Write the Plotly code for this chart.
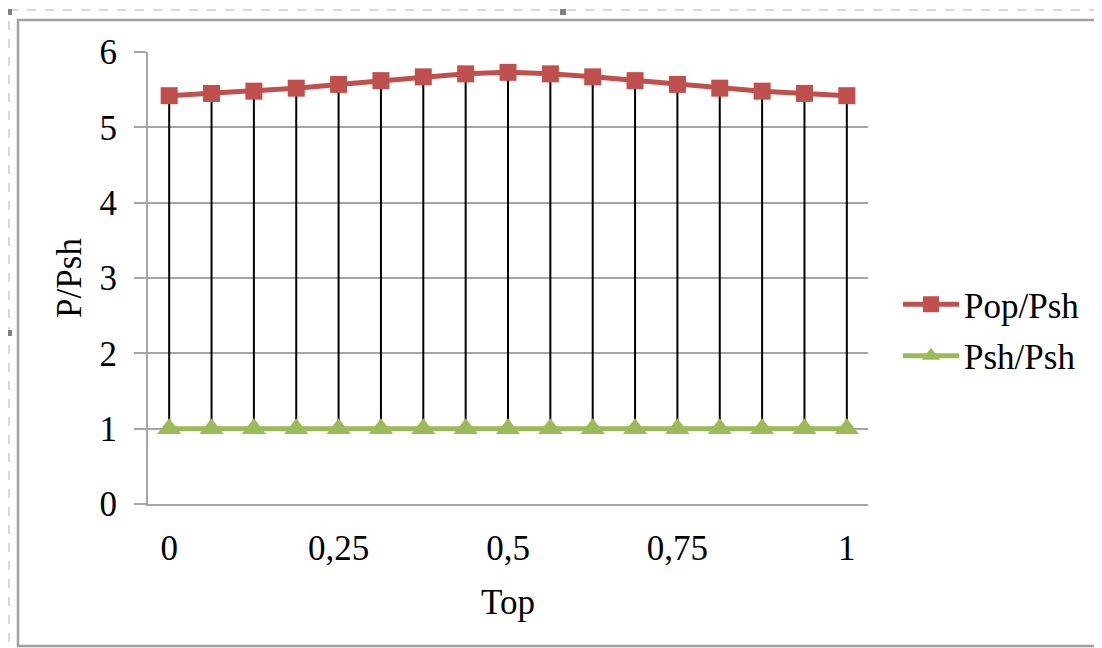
import plotly.graph_objects as go

# Data
x_vals = [i / 16 for i in range(17)]
pop_psh = [5.42, 5.45, 5.48, 5.52, 5.57, 5.62, 5.67, 5.71, 5.73,
           5.71, 5.67, 5.62, 5.57, 5.52, 5.48, 5.45, 5.42]
psh_psh = [1.0] * 17
x_tick_vals = [0, 0.25, 0.5, 0.75, 1]
x_tick_text = ["0", "0,25", "0,5", "0,75", "1"]
y_tick_vals = [0, 1, 2, 3, 4, 5, 6]

FONT = "Liberation Serif"
RED = "#C0504D"
GREEN = "#9BBB59"
GRID = "#A6A6A6"
FS = 35

# high-low lines between the two series
hl_x, hl_y = [], []
for xv, hi, lo in zip(x_vals, pop_psh, psh_psh):
    hl_x += [xv, xv, None]
    hl_y += [hi, lo, None]

fig = go.Figure()
fig.add_trace(go.Scatter(x=hl_x, y=hl_y, mode="lines",
                         line=dict(color="black", width=2),
                         showlegend=False, hoverinfo="skip"))
fig.add_trace(go.Scatter(x=x_vals, y=pop_psh, mode="lines+markers", name="Pop/Psh",
                         legendgroup="a",
                         line=dict(color=RED, width=5),
                         marker=dict(symbol="square", size=17, color=RED)))
fig.add_trace(go.Scatter(x=x_vals, y=psh_psh, mode="lines+markers", name="Psh/Psh",
                         legendgroup="b",
                         line=dict(color=GREEN, width=5),
                         marker=dict(symbol="triangle-up", size=21, color=GREEN)))

OFF = 8  # page body margin
W, H = 1102 - OFF, 648 - OFF
L, R, T, B = 148 - OFF, W - (868 - OFF), 52 - OFF, H - (504 - OFF)
PW, PH = W - L - R, H - T - B


def px(x):
    return ((x - OFF) - L) / PW


def py(y):
    return (H - B - (y - OFF)) / PH


shapes = [
    # chart frame
    dict(type="rect", xref="paper", yref="paper", x0=px(18), x1=px(1115), y0=py(646), y1=py(20),
         line=dict(color="#A0A0A0", width=2.5), layer="below"),
    # dashed selection border
    dict(type="line", xref="paper", yref="paper", x0=px(9), x1=px(9), y0=py(660), y1=py(10),
         line=dict(color="#B0B0B0", width=1, dash="dash")),
    dict(type="line", xref="paper", yref="paper", x0=px(9), x1=px(1115), y0=py(10), y1=py(10),
         line=dict(color="#B0B0B0", width=1, dash="dash")),
]
for hx, hy in [(9, 12), (563, 12), (9, 333)]:
    shapes.append(dict(type="rect", xref="paper", yref="paper",
                       x0=px(hx - 3), x1=px(hx + 3), y0=py(hy + 3), y1=py(hy - 3),
                       fillcolor="#808080", line=dict(width=0)))

fig.update_layout(
    width=W, height=H,
    margin=dict(l=L, r=R, t=T, b=B),
    paper_bgcolor="white", plot_bgcolor="white",
    font=dict(family=FONT, size=FS, color="black"),
    shapes=shapes,
    legend=dict(x=px(898), y=py(275), xanchor="left", yanchor="top",
                font=dict(family=FONT, size=FS, color="black"),
                itemwidth=56, traceorder="grouped", tracegroupgap=3,
                bgcolor="rgba(0,0,0,0)"),
    xaxis=dict(range=[-1 / 32, 1 + 1 / 32], tickvals=x_tick_vals, ticktext=x_tick_text,
               showgrid=False, zeroline=False, showline=True, linecolor=GRID, linewidth=2,
               ticks="", ticklabelstandoff=12,
               title=dict(text="Top", font=dict(family=FONT, size=FS), standoff=22)),
    yaxis=dict(range=[0, 6], tickvals=y_tick_vals, showgrid=True, gridcolor=GRID, gridwidth=1.5,
               zeroline=False, showline=True, linecolor=GRID, linewidth=2,
               ticks="outside", ticklen=12, tickcolor=GRID, tickwidth=1.5,
               ticklabelstandoff=10,
               title=dict(text="P/Psh", font=dict(family=FONT, size=FS), standoff=7)),
)

fig.write_html("out.html")
